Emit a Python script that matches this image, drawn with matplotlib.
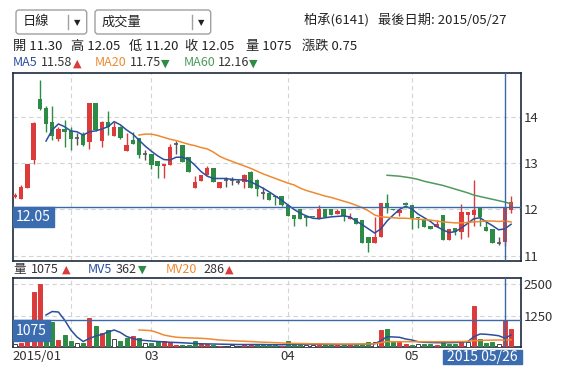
import matplotlib
matplotlib.use('Agg')
import matplotlib.pyplot as plt
import matplotlib.transforms as mtransforms
from matplotlib.patches import Rectangle, FancyBboxPatch
from matplotlib.lines import Line2D
import numpy as np

plt.rcParams['font.family'] = ['Noto Sans CJK TC', 'DejaVu Sans']

# daily candles, 2015/01 .. 2015/05/27 (index 0 .. 80)
opens = [12.28, 12.22, 12.47, 13.07, 14.38, 14.20, 13.90, 13.53, 13.74, 13.70,
         13.55, 13.60, 13.45, 14.31, 13.49, 13.89, 13.58, 13.78, 13.27, 13.50,
         13.54, 13.19, 13.20, 13.05, 12.93, 12.96, 13.42, 13.39, 13.13, 12.47,
         12.62, 12.74, 12.89, 12.47, 12.64, 12.64, 12.60, 12.59, 12.80, 12.64,
         12.36, 12.36, 12.29, 12.29, 12.10, 11.88, 12.00, 11.85, 11.86, 11.79,
         12.00, 12.00, 11.91, 12.00, 11.79, 11.81, 11.77, 11.41, 11.27, 11.41,
         12.13, 12.02, 11.93, 12.15, 12.10, 11.84, 11.77, 11.65, 11.63, 11.88,
         11.33, 11.59, 11.52, 11.87, 11.87, 12.03, 11.63, 11.57, 11.27, 11.30,
         11.99]
highs = [12.35, 12.53, 12.98, 13.90, 14.80, 14.24, 14.24, 13.79, 13.94, 13.78,
         13.65, 13.68, 14.31, 14.31, 13.91, 14.14, 13.90, 13.80, 13.65, 13.68,
         13.54, 13.29, 13.20, 13.05, 12.98, 13.42, 13.49, 13.39, 13.13, 12.72,
         12.74, 12.93, 12.89, 12.59, 12.71, 12.70, 12.66, 12.76, 12.83, 12.66,
         12.48, 12.36, 12.30, 12.29, 12.10, 11.88, 12.00, 11.86, 11.86, 12.09,
         12.00, 12.00, 12.01, 12.00, 11.92, 11.81, 11.77, 11.41, 11.84, 12.13,
         12.33, 12.02, 12.02, 12.17, 12.10, 11.84, 11.77, 11.65, 11.77, 11.88,
         11.58, 11.59, 12.11, 11.95, 12.64, 12.03, 11.77, 11.57, 11.41, 12.05,
         12.29]
lows = [12.24, 12.22, 12.47, 12.98, 14.15, 13.68, 13.50, 13.48, 13.35, 13.29,
        13.39, 13.37, 13.30, 13.70, 13.35, 13.61, 13.58, 13.52, 13.27, 13.42,
        13.11, 13.06, 12.87, 12.67, 12.67, 12.96, 13.21, 13.03, 12.82, 12.47,
        12.62, 12.74, 12.59, 12.47, 12.48, 12.52, 12.55, 12.46, 12.47, 12.29,
        12.23, 12.20, 12.10, 12.08, 11.86, 11.64, 11.79, 11.65, 11.83, 11.79,
        11.84, 11.88, 11.91, 11.75, 11.79, 11.68, 11.27, 11.08, 11.27, 11.41,
        11.93, 11.98, 11.85, 12.10, 11.57, 11.60, 11.63, 11.57, 11.63, 11.33,
        11.33, 11.44, 11.37, 11.41, 11.65, 11.65, 11.54, 11.27, 11.23, 11.20,
        11.92]
closes = [12.32, 12.49, 12.98, 13.88, 14.17, 13.84, 13.58, 13.73, 13.68, 13.52,
          13.55, 13.39, 14.31, 13.72, 13.90, 13.78, 13.79, 13.54, 13.39, 13.42,
          13.18, 13.19, 12.96, 12.93, 12.98, 13.35, 13.42, 13.03, 12.82, 12.59,
          12.74, 12.89, 12.59, 12.59, 12.64, 12.64, 12.60, 12.74, 12.47, 12.44,
          12.36, 12.20, 12.27, 12.10, 11.86, 11.79, 11.79, 11.82, 11.83, 12.00,
          11.84, 11.88, 11.96, 11.86, 11.84, 11.68, 11.27, 11.27, 11.40, 12.13,
          12.04, 11.98, 11.98, 12.10, 11.81, 11.82, 11.63, 11.57, 11.68, 11.33,
          11.58, 11.52, 11.95, 11.95, 11.99, 11.84, 11.54, 11.27, 11.27, 12.05,
          12.17]

ma5 = [13.48, 13.72, 13.85, 13.79, 13.70, 13.68, 13.61, 13.68, 13.70, 13.74,
       13.79, 13.90, 13.83, 13.72, 13.63, 13.50, 13.37, 13.26, 13.16, 13.08,
       13.07, 13.13, 13.13, 13.08, 12.96, 12.82, 12.72, 12.67, 12.67, 12.67,
       12.65, 12.64, 12.64, 12.60, 12.53, 12.46, 12.38, 12.29, 12.20, 12.10,
       12.00, 11.92, 11.86, 11.81, 11.80, 11.82, 11.84, 11.85, 11.86, 11.84,
       11.75, 11.67, 11.58, 11.49, 11.58, 11.75, 11.88, 12.00, 12.07, 12.01,
       11.90, 11.82, 11.74, 11.63, 11.56, 11.50, 11.52, 11.60, 11.70, 11.80,
       11.82, 11.73, 11.65, 11.56, 11.58, 11.68]  # from index 5
ma20 = [13.61, 13.63, 13.63, 13.60, 13.56, 13.52, 13.49, 13.45, 13.41, 13.38,
        13.34, 13.31, 13.24, 13.15, 13.09, 13.04, 12.99, 12.94, 12.89, 12.83,
        12.77, 12.72, 12.67, 12.62, 12.57, 12.53, 12.46, 12.41, 12.37, 12.33,
        12.29, 12.26, 12.22, 12.18, 12.14, 12.09, 12.04, 11.97, 11.88, 11.84,
        11.83, 11.82, 11.81, 11.81, 11.80, 11.79, 11.78, 11.77, 11.75, 11.73,
        11.72, 11.71, 11.71, 11.72, 11.73, 11.74, 11.75, 11.75, 11.74, 11.75,
        11.73]  # from index 20
ma60 = [12.74, 12.73, 12.72, 12.70, 12.68, 12.65, 12.61, 12.58, 12.55, 12.52,
        12.48, 12.44, 12.40, 12.36, 12.31, 12.28, 12.25, 12.22, 12.19, 12.16,
        12.12]  # from index 60

volume = [130, 183, 390, 2206, 2512, 976, 1016, 290, 488, 262,
          159, 183, 1151, 845, 556, 687, 317, 250, 381, 448,
          357, 183, 183, 250, 250, 222, 91, 80, 80, 250,
          120, 120, 90, 70, 70, 80, 70, 90, 120, 120,
          90, 90, 90, 60, 250, 150, 150, 100, 100, 100,
          120, 120, 100, 100, 130, 120, 120, 200, 200, 687,
          714, 222, 222, 130, 100, 130, 130, 130, 100, 183,
          150, 150, 262, 222, 1651, 329, 183, 222, 130, 1075,
          726]
vol_dir = ['w', 'r', 'r', 'r', 'r', 'g', 'g', 'r', 'g', 'g',
           'w', 'g', 'r', 'g', 'r', 'g', 'w', 'g', 'g', 'r',
           'g', 'w', 'g', 'g', 'r', 'r', 'r', 'g', 'g', 'g',
           'r', 'r', 'g', 'r', 'w', 'w', 'w', 'r', 'r', 'g',
           'g', 'g', 'g', 'r', 'g', 'g', 'g', 'w', 'w', 'r',
           'g', 'g', 'r', 'g', 'r', 'g', 'g', 'g', 'w', 'r',
           'g', 'g', 'r', 'r', 'g', 'w', 'g', 'g', 'r', 'g',
           'g', 'g', 'r', 'w', 'r', 'g', 'g', 'g', 'w', 'r',
           'r']
mv5 = [1282, 1420, 1400, 1083, 687, 409, 230, 349, 448, 508,
       607, 687, 587, 429, 349, 290, 270, 250, 230, 215,
       200, 190, 180, 165, 150, 140, 135, 130, 125, 120,
       115, 110, 110, 110, 110, 110, 105, 105, 100, 110,
       115, 120, 125, 125, 120, 115, 110, 110, 110, 110,
       115, 120, 130, 140, 260, 421, 410, 397, 330, 290,
       222, 200, 190, 183, 183, 183, 190, 200, 222, 421,
       528, 516, 490, 460, 362, 488]  # from index 5
mv20 = [687, 675, 659, 580, 488, 440, 400, 385, 375, 365,
        357, 340, 315, 290, 275, 262, 250, 240, 228, 215,
        203, 195, 185, 172, 159, 155, 150, 145, 140, 138,
        135, 133, 131, 130, 130, 130, 130, 131, 140, 183,
        230, 222, 222, 225, 222, 222, 222, 222, 222, 222,
        222, 225, 230, 240, 262, 270, 280, 285, 290, 286,
        300]  # from index 20

month_idx = [9, 22, 44, 64]
month_labels = ['', '03', '04', '05']
cursor_idx = 79

RED = '#dc3b3b'
GREEN = '#2e8b46'
GRAY = '#555555'
BLUE = '#2b4f9e'
ORANGE = '#ee8a30'
MGREEN = '#4f9a5f'
CURSOR = '#3a69a8'
BOX = '#3b6cb0'
FRAME = '#1c2b3d'
TXT = '#333333'

W, H = 581, 374
fig = plt.figure(figsize=(W / 100, H / 100), dpi=100)


def fx(px):
    return px / W


def fy(py):
    return 1 - py / H


ax = fig.add_axes([fx(12.7), fy(261), fx(521) - fx(12.7), fy(73) - fy(261)])
axv = fig.add_axes([fx(12.7), fy(347.3), fx(521) - fx(12.7), fy(278.3) - fy(347.3)])

x = np.arange(len(opens))
o = np.array(opens)
c = np.array(closes)
cols = [RED if cc > oo else (GREEN if cc < oo else GRAY) for oo, cc in zip(opens, closes)]

# price panel
ax.vlines(x, lows, highs, colors=cols, lw=1, zorder=3)
ax.bar(x, np.abs(c - o), bottom=np.minimum(o, c), width=0.7, color=cols, linewidth=0, zorder=3)
flat = c == o
ax.hlines(o[flat], x[flat] - 0.35, x[flat] + 0.35, colors=GRAY, lw=1.2, zorder=3)
ax.plot(x[5:], ma5, color=BLUE, lw=1.1, zorder=4)
ax.plot(x[20:], ma20, color=ORANGE, lw=1.1, zorder=4)
ax.plot(x[60:], ma60, color=MGREEN, lw=1.1, zorder=4)

ax.set_xlim(-0.37, 81.6)
ax.set_ylim(10.885, 14.952)
ax.set_yticks([11, 12, 13, 14])
ax.set_xticks(month_idx)
ax.set_xticklabels([])
ax.yaxis.tick_right()
ax.tick_params(axis='both', length=0, labelsize=9.5, colors=TXT, pad=2)
ax.grid(True, color='#d4d4d4', ls=(0, (4, 3)), lw=0.8, zorder=0)

# volume panel
vcol = {'r': RED, 'g': GREEN, 'w': 'white'}
vedge = {'r': RED, 'g': GREEN, 'w': '#444444'}
axv.bar(x, volume, width=0.65, color=[vcol[d] for d in vol_dir],
        edgecolor=[vedge[d] for d in vol_dir], linewidth=0.7, zorder=3)
axv.plot(x[5:], mv5, color=BLUE, lw=1.1, zorder=4)
axv.plot(x[20:], mv20, color=ORANGE, lw=1.1, zorder=4)
axv.set_xlim(-0.37, 81.6)
axv.set_ylim(0, 2738)
axv.set_yticks([1250, 2500])
axv.yaxis.tick_right()
axv.set_xticks(month_idx)
axv.set_xticklabels(month_labels)
axv.tick_params(axis='both', length=0, labelsize=9.5, colors=TXT, pad=2)
axv.grid(True, color='#d4d4d4', ls=(0, (4, 3)), lw=0.8, zorder=0)
axv.text(-0.35, -0.13, '2015/01', transform=mtransforms.blended_transform_factory(axv.transData, axv.transAxes),
         ha='left', va='center', fontsize=9.5, color=TXT)

for a in (ax, axv):
    for s in a.spines.values():
        s.set_color(FRAME)
        s.set_linewidth(1.2)

# cursor
ax.axhline(closes[cursor_idx], color=CURSOR, lw=1, zorder=5)
ax.axvline(cursor_idx, color=CURSOR, lw=1, zorder=5)
axv.axhline(volume[cursor_idx], color=CURSOR, lw=1, zorder=5)
axv.axvline(cursor_idx, color=CURSOR, lw=1, zorder=5)

tr = mtransforms.blended_transform_factory(ax.transAxes, ax.transData)
ax.add_patch(Rectangle((0, closes[cursor_idx] - 0.433), 41.3 / 508.3, 0.433, transform=tr,
                       color=BOX, zorder=6, clip_on=False))
ax.text(20.6 / 508.3, closes[cursor_idx] - 0.216, '%.2f' % closes[cursor_idx], transform=tr,
        color='white', fontsize=10, ha='center', va='center', zorder=7)
trv = mtransforms.blended_transform_factory(axv.transAxes, axv.transData)
axv.add_patch(Rectangle((0, volume[cursor_idx] - 820), 37.3 / 508.3, 820, transform=trv,
                        color=BOX, zorder=6, clip_on=False))
axv.text(18.6 / 508.3, volume[cursor_idx] - 410, str(volume[cursor_idx]), transform=trv,
         color='white', fontsize=10, ha='center', va='center', zorder=7)

fig.add_artist(Rectangle((fx(443), fy(364.3)), fx(521.7) - fx(443), fy(350) - fy(364.3),
                         transform=fig.transFigure, color=BOX))
fig.text(fx(482.3), fy(357.4), '2015 05/26', color='white', fontsize=10, ha='center', va='center')

# header: dropdowns
for x0, x1, sep, label in [(16, 86.7, 68.3, '日線'), (95, 210.7, 192.3, '成交量')]:
    fig.add_artist(FancyBboxPatch((fx(x0), fy(34)), fx(x1) - fx(x0), fy(10) - fy(34),
                                  boxstyle='round,pad=0,rounding_size=0.005', mutation_aspect=W / H,
                                  transform=fig.transFigure, facecolor='white', edgecolor='#a0a0a0', lw=1))
    fig.add_artist(Line2D([fx(sep), fx(sep)], [fy(15), fy(29)], transform=fig.transFigure,
                          color='#a0a0a0', lw=1))
    fig.text(fx(x0 + 7), fy(22), label, fontsize=9.5, ha='left', va='center', color='#222222')
    fig.text(fx((sep + x1) / 2), fy(22.5), '▼', fontsize=6, ha='center', va='center',
             color='#222222', family='DejaVu Sans')

fig.text(fx(506), fy(20), '柏承(6141)   最後日期: 2015/05/27', fontsize=9.5, ha='right', va='center',
         color='#222222')

info = [(12.7, '開 11.30'), (70.7, '高 12.05'), (129.3, '低 11.20'), (185, '收 12.05'),
        (245.7, '量 1075'), (301.7, '漲跌 0.75')]
for px, s in info:
    fig.text(fx(px), fy(46.7), s, fontsize=9.5, ha='left', va='center', color='#222222')

ma_text = [(12.7, 'MA5', BLUE), (40.7, '11.58', TXT), (95, 'MA20', ORANGE), (130, '11.75', TXT),
           (184, 'MA60', MGREEN), (218, '12.16', TXT)]
for px, s, col in ma_text:
    fig.text(fx(px), fy(62.7), s, fontsize=9, ha='left', va='center', color=col)
ma_arrow = [(72.5, '▲', RED), (161, '▼', GREEN), (249, '▼', GREEN)]
for px, s, col in ma_arrow:
    fig.text(fx(px), fy(63.2), s, fontsize=8, ha='left', va='center', color=col, family='DejaVu Sans')

vol_text = [(13, '量', TXT), (31, '1075', TXT), (87.3, 'MV5', BLUE), (116, '362', TXT),
            (165.7, 'MV20', ORANGE), (203, '286', TXT)]
for px, s, col in vol_text:
    fig.text(fx(px), fy(269.5), s, fontsize=9, ha='left', va='center', color=col)
vol_arrow = [(62, '▲', RED), (137.5, '▼', GREEN), (224.5, '▲', RED)]
for px, s, col in vol_arrow:
    fig.text(fx(px), fy(270), s, fontsize=8, ha='left', va='center', color=col, family='DejaVu Sans')

fig.savefig('out.png', dpi=100)
